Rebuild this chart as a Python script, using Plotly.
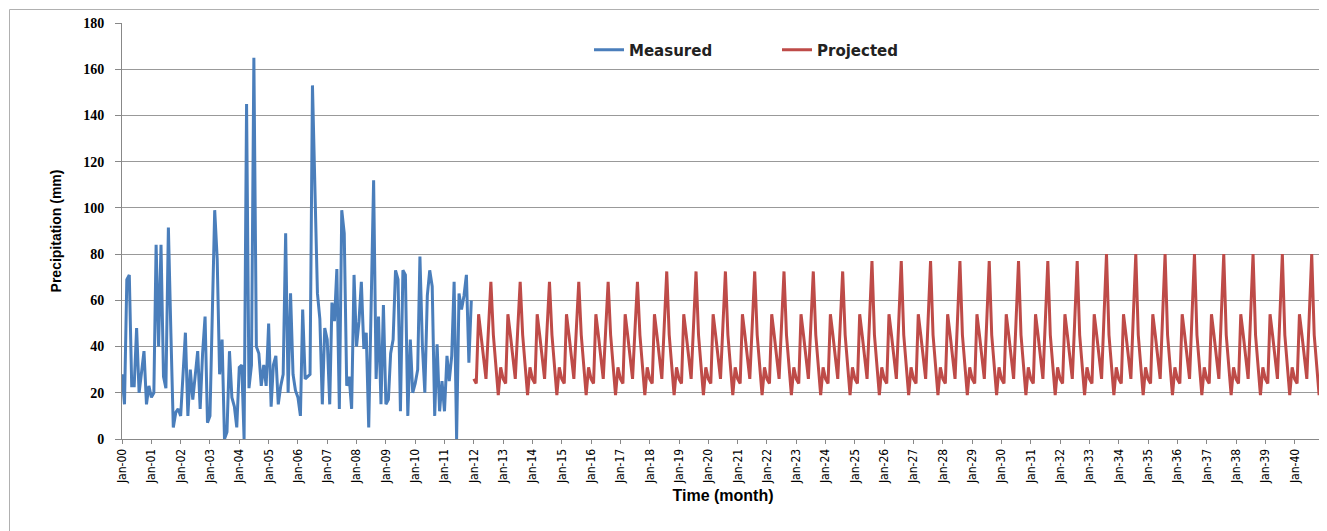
import plotly.graph_objects as go
import pandas as pd

# ---------------- data ----------------
measured_start = "2000-01-01"
projected_start = "2012-01-01"

# Monthly measured precipitation (mm), Jan-2000 .. Dec-2011
measured_2000 = [28, 15, 69, 71, 23, 23, 48, 20, 29, 38, 15, 23]
measured_2001 = [18, 20, 84, 40, 84, 27, 22, 91.5, 46, 5, 11.5, 13]
measured_2002 = [10, 27, 46, 10, 30, 17, 26, 38, 13, 37, 53, 7]
measured_2003 = [10, 55, 99, 78, 28, 43, 0, 3, 38, 18, 14, 5]
measured_2004 = [31, 32, 0, 145, 22, 32, 165, 40, 37, 23, 32, 23]
measured_2005 = [50, 14, 32, 36, 15, 23, 28, 89, 20, 63, 28, 21]
measured_2006 = [18, 10, 56, 26, 27, 28, 153, 105, 63, 52, 15, 48]
measured_2007 = [43, 15, 59, 51, 73.5, 13, 99, 89, 23, 27, 13, 71]
measured_2008 = [40, 51, 68, 39, 46, 5, 58, 112, 26, 53, 15, 58]
measured_2009 = [15, 17, 37, 43, 73, 69, 12, 73, 71, 10, 43, 20]
measured_2010 = [24, 30, 79, 40, 20, 62, 73, 66, 10, 41, 12, 25]
measured_2011 = [12, 36, 25, 36, 68, 0, 63, 56, 62, 71, 33, 60]

# Monthly projected precipitation (mm), Jan-2012 .. Dec-2040 (one row per year)
projected_rows = [
    [26, 24, 54, 45, 35, 26, 47, 68, 45, 33, 19, 31],    # 2012
    [26, 24, 54, 45, 35, 26, 47, 68, 45, 33, 19, 31],    # 2013
    [26, 24, 54, 45, 35, 26, 47, 68, 45, 33, 19, 31],    # 2014
    [26, 24, 54, 45, 35, 26, 47, 68, 45, 33, 19, 31],    # 2015
    [26, 24, 54, 45, 35, 26, 47, 68, 45, 33, 19, 31],    # 2016
    [26, 24, 54, 45, 35, 26, 47, 68, 45, 33, 19, 31],    # 2017
    [26, 24, 54, 45, 35, 26, 49, 72.5, 45, 33, 19, 31],  # 2018
    [26, 24, 54, 45, 35, 26, 49, 72.5, 45, 33, 19, 31],  # 2019
    [26, 24, 54, 45, 35, 26, 49, 72.5, 45, 33, 19, 31],  # 2020
    [26, 24, 54, 45, 35, 26, 49, 72.5, 45, 33, 19, 31],  # 2021
    [26, 24, 54, 45, 35, 26, 49, 72.5, 45, 33, 19, 31],  # 2022
    [26, 24, 54, 45, 35, 26, 49, 72.5, 45, 33, 19, 31],  # 2023
    [26, 24, 54, 45, 35, 26, 49, 72.5, 45, 33, 19, 31],  # 2024
    [26, 24, 54, 45, 35, 26, 51, 77, 45, 33, 19, 31],    # 2025
    [26, 24, 54, 45, 35, 26, 51, 77, 45, 33, 19, 31],    # 2026
    [26, 24, 54, 45, 35, 26, 51, 77, 45, 33, 19, 31],    # 2027
    [26, 24, 54, 45, 35, 26, 51, 77, 45, 33, 19, 31],    # 2028
    [26, 24, 54, 45, 35, 26, 51, 77, 45, 33, 19, 31],    # 2029
    [26, 24, 54, 45, 35, 26, 51, 77, 45, 33, 19, 31],    # 2030
    [26, 24, 54, 45, 35, 26, 51, 77, 45, 33, 19, 31],    # 2031
    [26, 24, 54, 45, 35, 26, 51, 77, 45, 33, 19, 31],    # 2032
    [26, 24, 54, 45, 35, 26, 53, 80, 45, 33, 19, 31],    # 2033
    [26, 24, 54, 45, 35, 26, 53, 80, 45, 33, 19, 31],    # 2034
    [26, 24, 54, 45, 35, 26, 53, 80, 45, 33, 19, 31],    # 2035
    [26, 24, 54, 45, 35, 26, 53, 80, 45, 33, 19, 31],    # 2036
    [26, 24, 54, 45, 35, 26, 53, 80, 45, 33, 19, 31],    # 2037
    [26, 24, 54, 45, 35, 26, 53, 80, 45, 33, 19, 31],    # 2038
    [26, 24, 54, 45, 35, 26, 53, 80, 45, 33, 19, 31],    # 2039
    [26, 24, 54, 45, 35, 26, 53, 80, 45, 33, 19, 31],    # 2040
]

tick_years = list(range(2000, 2041))
y_ticks = [0, 20, 40, 60, 80, 100, 120, 140, 160, 180]

# ---------------- build ----------------
measured = (measured_2000 + measured_2001 + measured_2002 + measured_2003 +
            measured_2004 + measured_2005 + measured_2006 + measured_2007 +
            measured_2008 + measured_2009 + measured_2010 + measured_2011)
projected = [v for row in projected_rows for v in row]

measured_dates = pd.date_range(measured_start, periods=len(measured), freq="MS")
projected_dates = pd.date_range(projected_start, periods=len(projected), freq="MS")

tick_vals = [f"{y}-01-01" for y in tick_years]
tick_text = [f"Jan-{y % 100:02d}" for y in tick_years]

fig = go.Figure()
fig.add_trace(go.Scatter(x=measured_dates, y=measured, mode="lines", name="Measured",
                         line=dict(color="#4A7EBB", width=3)))
fig.add_trace(go.Scatter(x=projected_dates, y=projected, mode="lines", name="Projected",
                         line=dict(color="#BE4B48", width=3)))

# the page body has an 8px margin, so the figure is placed at (8, 8)
OFF = 8
W, H = 1327 - OFF, 531 - OFF
PL, PT, PR, PB = 122, 23, 1324, 439          # plot area on the page
L, T = PL - OFF, PT - OFF
R = OFF + W - PR
B = H - T - (PB - PT)
pw = PR - PL
ph = PB - PT


def px_x(x):
    return (x - PL) / pw


def px_y(y):
    return (PB - y) / ph


fig.update_layout(
    width=W, height=H,
    margin=dict(l=L, r=R, t=T, b=B, autoexpand=False),
    paper_bgcolor="white", plot_bgcolor="white",
    showlegend=True,
    legend=dict(orientation="h", x=px_x(589), xanchor="left",
                y=px_y(50), yanchor="middle",
                entrywidth=143, entrywidthmode="pixels",
                font=dict(family="DejaVu Sans", size=15, color="#222", weight="bold"),
                bgcolor="rgba(0,0,0,0)"),
    shapes=[dict(type="rect", xref="paper", yref="paper",
                 x0=px_x(9.5), x1=px_x(1340), y0=px_y(545), y1=px_y(9.5),
                 line=dict(color="#B0B0B0", width=1), fillcolor="rgba(0,0,0,0)",
                 layer="above")],
)

fig.update_xaxes(
    range=["2000-01-01", "2041-01-01"],
    tickvals=tick_vals, ticktext=tick_text, tickangle=-90,
    tickfont=dict(family="Liberation Sans Narrow, DejaVu Sans Condensed", size=12, color="black"),
    ticks="outside", ticklen=4, tickcolor="#888",
    showline=True, linecolor="#888", linewidth=1,
    showgrid=False, zeroline=False,
    title=dict(text="Time (month)", standoff=6,
               font=dict(family="Liberation Sans", size=16, color="black", weight="bold")),
)
fig.update_yaxes(
    range=[0, 180], tickvals=y_ticks,
    tickfont=dict(family="Liberation Serif", size=14, color="black", weight="bold"),
    ticks="outside", ticklen=6, tickcolor="#888", ticklabelstandoff=8,
    showline=True, linecolor="#888", linewidth=1,
    showgrid=True, gridcolor="#999", gridwidth=1, zeroline=False,
    title=dict(text="Precipitation (mm)", standoff=18,
               font=dict(family="Liberation Sans", size=14, color="black", weight="bold")),
)

fig.write_html("out.html")
